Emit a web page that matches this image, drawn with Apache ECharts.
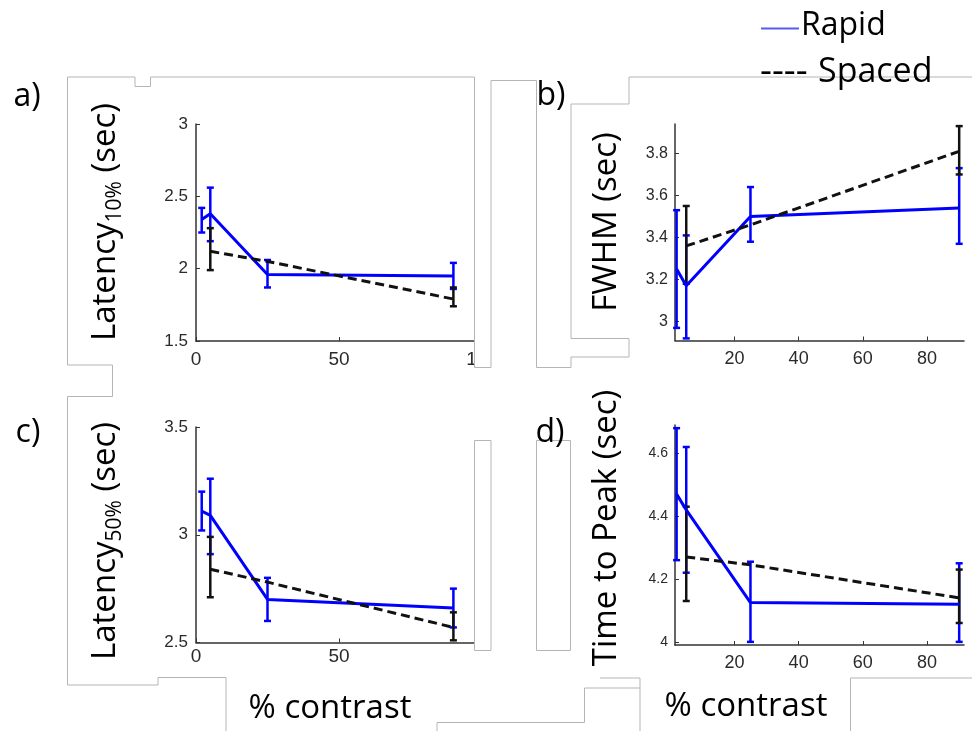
<!DOCTYPE html>
<html>
<head>
<meta charset="utf-8">
<title>Rapid vs Spaced - % contrast</title>
<script src="https://cdn.jsdelivr.net/npm/echarts@6/dist/echarts.min.js"></script>
<style>
html, body { margin: 0; padding: 0; background: #fff; }
#chart { width: 972px; height: 731px; }
</style>
</head>
<body>
<div id="chart"></div>
<script>
// % contrast of each condition
const rapidContrast = [2, 5, 25, 90];
const spacedContrast = [5, 25, 90];

// a) Latency 10% (sec)
const rapidLat10 = [2.34, 2.38, 1.96, 1.95];
const rapidLat10Low = [2.25, 2.19, 1.87, 1.86];
const rapidLat10High = [2.42, 2.56, 2.06, 2.04];
const spacedLat10 = [2.12, 2.05, 1.79];
const spacedLat10Low = [1.99, null, 1.74];
const spacedLat10High = [2.28, null, 1.87];

// b) FWHM (sec)
const rapidFwhm = [3.25, 3.17, 3.50, 3.54];
const rapidFwhmLow = [2.97, 2.92, 3.38, 3.37];
const rapidFwhmHigh = [3.53, 3.41, 3.64, 3.73];
const spacedFwhm = [3.36, 3.46, 3.81];
const spacedFwhmLow = [3.18, null, 3.70];
const spacedFwhmHigh = [3.55, null, 3.93];

// c) Latency 50% (sec)
const rapidLat50 = [3.11, 3.09, 2.70, 2.66];
const rapidLat50Low = [3.02, 2.91, 2.60, 2.57];
const rapidLat50High = [3.20, 3.26, 2.80, 2.75];
const spacedLat50 = [2.84, 2.78, 2.57];
const spacedLat50Low = [2.71, null, 2.51];
const spacedLat50High = [2.99, null, 2.64];

// d) Time to peak (sec)
const rapidTtp = [4.47, 4.42, 4.125, 4.12];
const rapidTtpLow = [4.26, 4.22, 4.00, 4.00];
const rapidTtpHigh = [4.68, 4.62, 4.255, 4.25];
const spacedTtp = [4.27, 4.245, 4.14];
const spacedTtpLow = [4.13, null, 4.06];
const spacedTtpHigh = [4.43, null, 4.23];

// tick values
const xTicksWide = [0, 50, 100];
const xTicksFine = [20, 40, 60, 80];
const yTicksFwhm = [3, 3.2, 3.4, 3.6, 3.8];
const yTicksTtp = [4, 4.2, 4.4, 4.6];

const BLUE = "#0000ff";
const BLACK = "#111";
const TICK_FONT = "Liberation Sans";
const TEXT_FONT = "Open Sans";

function pairs(xs, ys) {
    return xs.map((x, i) => [x, ys[i]]);
}
function errPairs(xs, lo, hi) {
    const out = [];
    xs.forEach((x, i) => {
        if (lo[i] != null && hi[i] != null) out.push([x, lo[i], hi[i]]);
    });
    return out;
}

function errorBars(color) {
    return function (params, api) {
        const x = api.value(0);
        const lo = api.coord([x, api.value(1)]);
        const hi = api.coord([x, api.value(2)]);
        const cap = 3.5;
        const st = () => ({ stroke: color, lineWidth: 2.5 });
        return {
            type: "group",
            children: [
                { type: "line", shape: { x1: lo[0], y1: lo[1], x2: hi[0], y2: hi[1] }, style: st() },
                { type: "line", shape: { x1: lo[0] - cap, y1: lo[1], x2: lo[0] + cap, y2: lo[1] }, style: st() },
                { type: "line", shape: { x1: hi[0] - cap, y1: hi[1], x2: hi[0] + cap, y2: hi[1] }, style: st() }
            ]
        };
    };
}

const panels = [
    {
        grid: { left: 196, top: 124, width: 286, height: 217 },
        x: { min: 0, max: 100, interval: 50, font: 19, margin: 9 },
        y: { min: 1.5, max: 3, interval: 0.5, font: 17, margin: 8 },
        rapid: [rapidLat10, rapidLat10Low, rapidLat10High],
        spaced: [spacedLat10, spacedLat10Low, spacedLat10High]
    },
    {
        grid: { left: 675, top: 124, width: 289, height: 216.5 },
        x: { min: 1.5, max: 91.5, ticks: xTicksFine, font: 18, margin: 10 },
        y: { min: 2.91, max: 3.94, ticks: yTicksFwhm, font: 16, margin: 7 },
        rapid: [rapidFwhm, rapidFwhmLow, rapidFwhmHigh],
        spaced: [spacedFwhm, spacedFwhmLow, spacedFwhmHigh]
    },
    {
        grid: { left: 196, top: 427, width: 286, height: 215.5 },
        x: { min: 0, max: 100, ticks: xTicksWide.slice(0, 2), font: 19, margin: 5 },
        y: { min: 2.5, max: 3.5, interval: 0.5, font: 17, margin: 8 },
        rapid: [rapidLat50, rapidLat50Low, rapidLat50High],
        spaced: [spacedLat50, spacedLat50Low, spacedLat50High]
    },
    {
        grid: { left: 675, top: 425, width: 289, height: 220 },
        x: { min: 1.5, max: 91.5, ticks: xTicksFine, font: 18, margin: 9 },
        y: { min: 3.99, max: 4.69, ticks: yTicksTtp, font: 14, margin: 7 },
        rapid: [rapidTtp, rapidTtpLow, rapidTtpHigh],
        spaced: [spacedTtp, spacedTtpLow, spacedTtpHigh]
    }
];

const axisLine = { show: true, lineStyle: { color: "#333", width: 1.5 } };

function makeAxis(cfg, i) {
    const ax = {
        type: "value",
        gridIndex: i,
        min: cfg.min,
        max: cfg.max,
        axisLine: axisLine,
        splitLine: { show: false },
        axisTick: { show: true, inside: true, length: 4, lineStyle: { color: "#333", width: 1 } },
        axisLabel: {
            color: "#2a2a2a",
            fontFamily: TICK_FONT,
            fontSize: cfg.font,
            margin: cfg.margin
        }
    };
    if (cfg.interval) ax.interval = cfg.interval;
    if (cfg.ticks) {
        ax.axisLabel.customValues = cfg.ticks;
        ax.axisTick.customValues = cfg.ticks;
    }
    return ax;
}

const grid = [], xAxis = [], yAxis = [], series = [];
panels.forEach((p, i) => {
    grid.push(p.grid);
    xAxis.push(makeAxis(p.x, i));
    yAxis.push(makeAxis(p.y, i));
    series.push({
        name: "Rapid", type: "line", xAxisIndex: i, yAxisIndex: i,
        data: pairs(rapidContrast, p.rapid[0]),
        symbol: "none", silent: true,
        lineStyle: { color: BLUE, width: 3 }
    });
    series.push({
        type: "custom", xAxisIndex: i, yAxisIndex: i,
        data: errPairs(rapidContrast, p.rapid[1], p.rapid[2]),
        encode: { x: 0, y: [1, 2] },
        renderItem: errorBars(BLUE), silent: true
    });
    series.push({
        name: "Spaced", type: "line", xAxisIndex: i, yAxisIndex: i,
        data: pairs(spacedContrast, p.spaced[0]),
        symbol: "none", silent: true, z: 3,
        lineStyle: { color: BLACK, width: 3, type: [9, 5] }
    });
    series.push({
        type: "custom", xAxisIndex: i, yAxisIndex: i, z: 3,
        data: errPairs(spacedContrast, p.spaced[1], p.spaced[2]),
        encode: { x: 0, y: [1, 2] },
        renderItem: errorBars(BLACK), silent: true
    });
});

// gray frame lines left over from the original figure
const frame = { stroke: "#b5b5b5", fill: null, lineWidth: 1 };
function poly(points) {
    return { type: "polyline", z: 101, shape: { points: points }, style: frame };
}
function box(x, y, w, h) {
    return { type: "rect", z: 100, shape: { x: x, y: y, width: w, height: h }, style: { fill: "#fff", stroke: "#b5b5b5", lineWidth: 1 } };
}
function label(text, x, y, size, align) {
    return {
        type: "text", z: 110, x: x, y: y,
        style: { text: text, fill: "#000", fontFamily: TEXT_FONT, fontSize: size, align: align || "center", verticalAlign: "middle" }
    };
}
function yTitle(main, sub, rest, x, y) {
    return {
        type: "text", z: 110, x: x, y: y, rotation: Math.PI / 2,
        style: {
            text: "{m|" + main + "}" + (sub ? "{s|" + sub + "}" : "") + "{m|" + rest + "}",
            align: "center", verticalAlign: "middle",
            rich: {
                m: { fontFamily: TEXT_FONT, fontSize: 33, fill: "#000", lineHeight: 40 },
                s: { fontFamily: TEXT_FONT, fontSize: 21, fill: "#000", verticalAlign: "bottom", lineHeight: 26 }
            }
        }
    };
}

const graphic = [
    // white cover for the clipped right end of panel a
    { type: "rect", z: 100, shape: { x: 475, y: 78, width: 61, height: 289 }, style: { fill: "#fff" } },
    poly([[67.5, 365], [67.5, 77], [135, 77], [135, 86.5], [150.5, 86.5], [150.5, 77], [474.5, 77], [474.5, 367.5],
        [491, 367.5], [491, 80.5], [536.5, 80.5], [536.5, 367.5], [571, 367.5], [571, 357], [629, 357],
        [629, 338.5], [571, 338.5], [571, 104], [629, 104], [629, 77], [972, 77]]),
    poly([[67.5, 365], [112.5, 365], [112.5, 396.5], [67.5, 396.5], [67.5, 685], [158, 685], [158, 677.5],
        [226, 677.5], [226, 731]]),
    box(474.5, 440.5, 16.5, 210),
    box(536.5, 440.5, 34, 210),
    poly([[437, 731], [437, 722.5], [584.5, 722.5], [584.5, 688], [640, 688], [640, 731]]),
    poly([[600, 678], [640, 678], [640, 688]]),
    poly([[850.5, 731], [850.5, 678], [972, 678]]),

    label("a)", 27, 97, 32),
    label("b)", 551, 96, 32),
    label("c)", 28, 433, 32),
    label("d)", 550, 433, 32),

    yTitle("Latency", "10%", " (sec)", 106, 222),
    yTitle("FWHM (sec)", "", "", 607, 222),
    yTitle("Latency", "50%", " (sec)", 106, 541),
    yTitle("Time to Peak (sec)", "", "", 607, 528),

    label("% contrast", 330, 709, 33),
    label("% contrast", 746, 707, 33),

    // legend
    { type: "line", z: 110, shape: { x1: 761, y1: 28.5, x2: 799, y2: 28.5 }, style: { stroke: "#5a5ae6", lineWidth: 2 } },
    label("Rapid", 801, 26, 32, "left"),
    label("----", 760, 72, 37, "left"),
    label("Spaced", 818, 72, 34, "left")
];

const chart = echarts.init(document.getElementById("chart"), null, { renderer: "canvas" });
chart.setOption({
    animation: false,
    backgroundColor: "#fff",
    grid: grid,
    xAxis: xAxis,
    yAxis: yAxis,
    series: series,
    graphic: graphic
});
</script>
</body>
</html>
